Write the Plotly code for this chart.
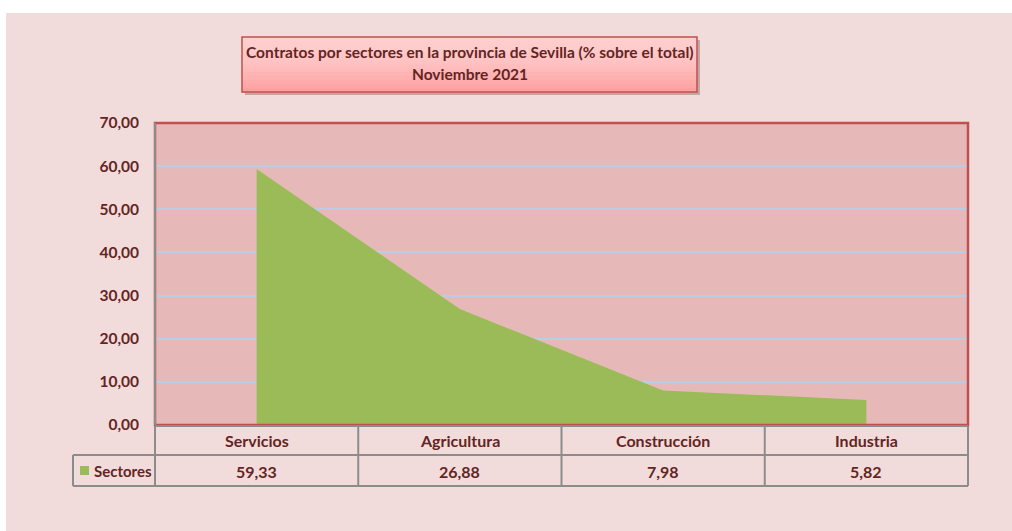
import plotly.graph_objects as go

categories = ["Servicios", "Agricultura", "Construcción", "Industria"]
values = [59.33, 26.88, 7.98, 5.82]
series_name = "Sectores"
title_lines = ["Contratos por sectores en la provincia de Sevilla (% sobre el total)", "Noviembre 2021"]
y_ticks = [0, 10, 20, 30, 40, 50, 60, 70]

FONT = "Lato, Liberation Sans, sans-serif"
TXT = "#632523"
PAGE_BG = "#F2DCDB"
PLOT_BG = "#E6B9B8"
RED = "#C0504D"
GRAY = "#8C8C8C"
GREEN = "#9BBB59"

PAGE_W, PAGE_H = 1012, 531
W, H = PAGE_W, PAGE_H
# plot area in page pixels
L, R, T, B = 155, 968, 123, 425
pw, ph = R - L, B - T

def px_y(py):
    return (B - py) / ph

def px_x(px):
    return (px - L) / pw

fig = go.Figure()
fig.add_trace(go.Scatter(
    x=categories, y=values, mode="none", fill="tozeroy",
    fillcolor=GREEN, name=series_name, showlegend=False, hoverinfo="x+y",
))

fig.update_layout(
    width=W, height=H,
    margin=dict(l=L, r=PAGE_W - R, t=T, b=PAGE_H - B),
    paper_bgcolor=PAGE_BG, plot_bgcolor=PLOT_BG,
    separators=",.",
    font=dict(family=FONT, color=TXT, size=16),
    xaxis=dict(type="category", range=[-0.5, len(categories) - 0.5],
               showticklabels=False, showgrid=False, zeroline=False, ticks=""),
    yaxis=dict(range=[0, 70], tickvals=y_ticks, tickformat=".2f",
               showgrid=True, gridcolor="#B9CDE5", gridwidth=1.5,
               zeroline=False, ticks="", ticklabelstandoff=15,
               tickfont=dict(family=FONT, size=15.5, color=TXT, weight="bold")),
)

shapes = []
# white strips at the top and left of the page
shapes.append(dict(type="rect", xref="paper", yref="paper", x0=px_x(-5), x1=px_x(PAGE_W + 5),
                   y0=px_y(13), y1=px_y(-5), fillcolor="white", line=dict(width=0), layer="below"))
shapes.append(dict(type="rect", xref="paper", yref="paper", x0=px_x(-5), x1=px_x(6),
                   y0=px_y(PAGE_H + 5), y1=px_y(-5), fillcolor="white", line=dict(width=0), layer="below"))
# plot frame
shapes.append(dict(type="rect", xref="paper", yref="paper", x0=0, x1=1, y0=0, y1=1,
                   line=dict(color=RED, width=2.5), layer="above"))
shapes.append(dict(type="line", xref="paper", yref="paper", x0=0, x1=0, y0=0, y1=1,
                   line=dict(color=GRAY, width=2), layer="above"))

# table geometry
row1_top, row1_bot, row2_bot = B, 455, 486
leg_left = 73
yt1, yb1, yb2 = px_y(row1_top + 1), px_y(row1_bot), px_y(row2_bot)
n = len(categories)
line_style = dict(color=GRAY, width=2)
shapes.append(dict(type="line", xref="paper", yref="paper", x0=0, x1=1, y0=yt1, y1=yt1, line=line_style))
shapes.append(dict(type="line", xref="paper", yref="paper", x0=px_x(leg_left), x1=1, y0=yb1, y1=yb1, line=line_style))
shapes.append(dict(type="line", xref="paper", yref="paper", x0=px_x(leg_left), x1=1, y0=yb2, y1=yb2, line=line_style))
for i in range(n + 1):
    xx = i / n
    shapes.append(dict(type="line", xref="paper", yref="paper", x0=xx, x1=xx, y0=yb2, y1=yt1, line=line_style))
shapes.append(dict(type="line", xref="paper", yref="paper", x0=px_x(leg_left), x1=px_x(leg_left), y0=yb2, y1=yb1, line=line_style))
# legend marker
shapes.append(dict(type="rect", xref="paper", yref="paper", x0=px_x(80), x1=px_x(89),
                   y0=px_y(475), y1=px_y(466), fillcolor=GREEN, line=dict(width=0)))

# title box with shadow and vertical gradient
bx0, bx1, by0, by1 = 242, 697, 37, 92
shapes.append(dict(type="rect", xref="paper", yref="paper", x0=px_x(bx0 + 3), x1=px_x(bx1 + 3),
                   y0=px_y(by1 + 3), y1=px_y(by0 + 3), fillcolor="rgba(120,90,90,0.40)", line=dict(width=0),
                   layer="below"))
top_rgb, bot_rgb = (255, 206, 206), (255, 160, 160)
steps = 14
for k in range(steps):
    t = k / (steps - 1)
    tt = t ** 1.6
    col = "rgb(%d,%d,%d)" % tuple(round(a + (b - a) * tt) for a, b in zip(top_rgb, bot_rgb))
    ya = by0 + (by1 - by0) * k / steps
    yb = by0 + (by1 - by0) * (k + 1) / steps
    shapes.append(dict(type="rect", xref="paper", yref="paper", x0=px_x(bx0), x1=px_x(bx1),
                       y0=px_y(yb + 0.5), y1=px_y(ya), fillcolor=col, line=dict(width=0),
                       layer="below"))
shapes.append(dict(type="rect", xref="paper", yref="paper", x0=px_x(bx0), x1=px_x(bx1),
                   y0=px_y(by1), y1=px_y(by0), fillcolor="rgba(0,0,0,0)", line=dict(color=RED, width=1.5),
                   layer="below"))

annotations = []
bold = dict(family=FONT, size=16, color=TXT, weight="bold")
for i, (c, v) in enumerate(zip(categories, values)):
    xc = (i + 0.5) / n
    annotations.append(dict(xref="paper", yref="paper", x=xc, y=px_y(440), text=c, showarrow=False,
                            font=bold, xanchor="center", yanchor="middle"))
    annotations.append(dict(xref="paper", yref="paper", x=xc, y=px_y(471),
                            text=f"{v:.2f}".replace(".", ","), showarrow=False,
                            font=bold, xanchor="center", yanchor="middle"))
annotations.append(dict(xref="paper", yref="paper", x=px_x(92), y=px_y(471), text=series_name,
                        showarrow=False, font=dict(family=FONT, size=15, color=TXT, weight="bold"),
                        xanchor="left", yanchor="middle"))
tfont = dict(family=FONT, size=15.5, color=TXT, weight="bold")
annotations.append(dict(xref="paper", yref="paper", x=px_x((bx0 + bx1) / 2), y=px_y(52),
                        text=title_lines[0], showarrow=False, font=tfont,
                        xanchor="center", yanchor="middle"))
annotations.append(dict(xref="paper", yref="paper", x=px_x((bx0 + bx1) / 2), y=px_y(74),
                        text=title_lines[1], showarrow=False, font=tfont,
                        xanchor="center", yanchor="middle"))

fig.update_layout(shapes=shapes, annotations=annotations)
fig.write_html("out.html", config={"displayModeBar": False},
               post_script="document.body.style.margin='0';document.body.style.overflow='hidden';")
